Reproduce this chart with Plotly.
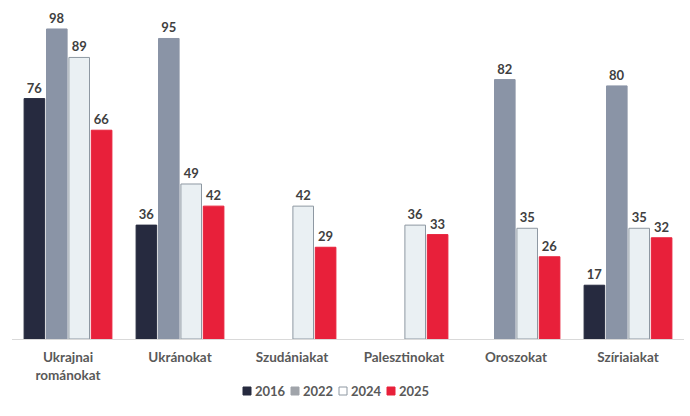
import plotly.graph_objects as go

categories = ["Ukrajnai<br>románokat", "Ukránokat", "Szudániakat", "Palesztinokat", "Oroszokat", "Szíriaiakat"]
series_names = ["2016", "2022", "2024", "2025"]
v2016 = [76, 36, None, None, None, 17]
v2022 = [98, 95, None, None, 82, 80]
v2024 = [89, 49, 42, 36, 35, 35]
v2025 = [66, 42, 29, 33, 26, 32]

values = [v2016, v2022, v2024, v2025]
fills = ["#262a3f", "#8a94a6", "#eaf0f3", "#e8203a"]
lines = ["#262a3f", "#8a94a6", "#8e98a2", "#e8203a"]
legend_fills = ["#262a3f", "#a0a4aa", "#ffffff", "#e8203a"]
legend_lines = ["#262a3f", "#a0a4aa", "#8e98a2", "#e8203a"]

W, H = 690, 416
ML, MR, MT, MB = 12, 6, 10, 77
PW, PH = W - ML - MR, H - MT - MB

def px_x(px):
    return (px - ML) / PW

def px_y(py):
    return (H - MB - py) / PH

fig = go.Figure()
for name, vals, fc, lc in zip(series_names, values, fills, lines):
    fig.add_trace(go.Bar(
        x=categories, y=vals, name=name,
        marker=dict(color=fc, line=dict(color=lc, width=1)),
        text=[("" if v is None else str(v)) for v in vals],
        textposition="outside",
        textfont=dict(family="Lato, Open Sans, sans-serif", size=13, color="#404040", weight="bold"),
        cliponaxis=False,
        showlegend=False,
    ))

# custom compact legend
leg_y = 391
start_x = 243
step = 48
sq = 8
for i, (name, fc, lc) in enumerate(zip(series_names, legend_fills, legend_lines)):
    x0 = start_x + i * step
    fig.add_shape(type="rect", xref="paper", yref="paper",
                  x0=px_x(x0), x1=px_x(x0 + sq), y0=px_y(leg_y + sq / 2), y1=px_y(leg_y - sq / 2),
                  fillcolor=fc, line=dict(color=lc, width=1))
    fig.add_annotation(xref="paper", yref="paper", x=px_x(x0 + sq + 2), y=px_y(leg_y),
                       text=name, showarrow=False, xanchor="left", yanchor="middle",
                       font=dict(family="Lato, Open Sans, sans-serif", size=13, color="#595959", weight="bold"))

fig.update_layout(
    width=W, height=H,
    margin=dict(l=ML, r=MR, t=MT, b=MB),
    paper_bgcolor="white", plot_bgcolor="white",
    barmode="group", bargap=0.2, bargroupgap=0.08,
    font=dict(family="Lato, Open Sans, sans-serif", color="#595959"),
    showlegend=False,
    xaxis=dict(showline=True, linecolor="#d9d9d9", linewidth=1, ticks="",
               ticklabelstandoff=6,
               tickfont=dict(size=13.5, color="#595959", weight="bold")),
    yaxis=dict(range=[0, 104], visible=False, showgrid=False, zeroline=False),
)

fig.write_html("out.html")
